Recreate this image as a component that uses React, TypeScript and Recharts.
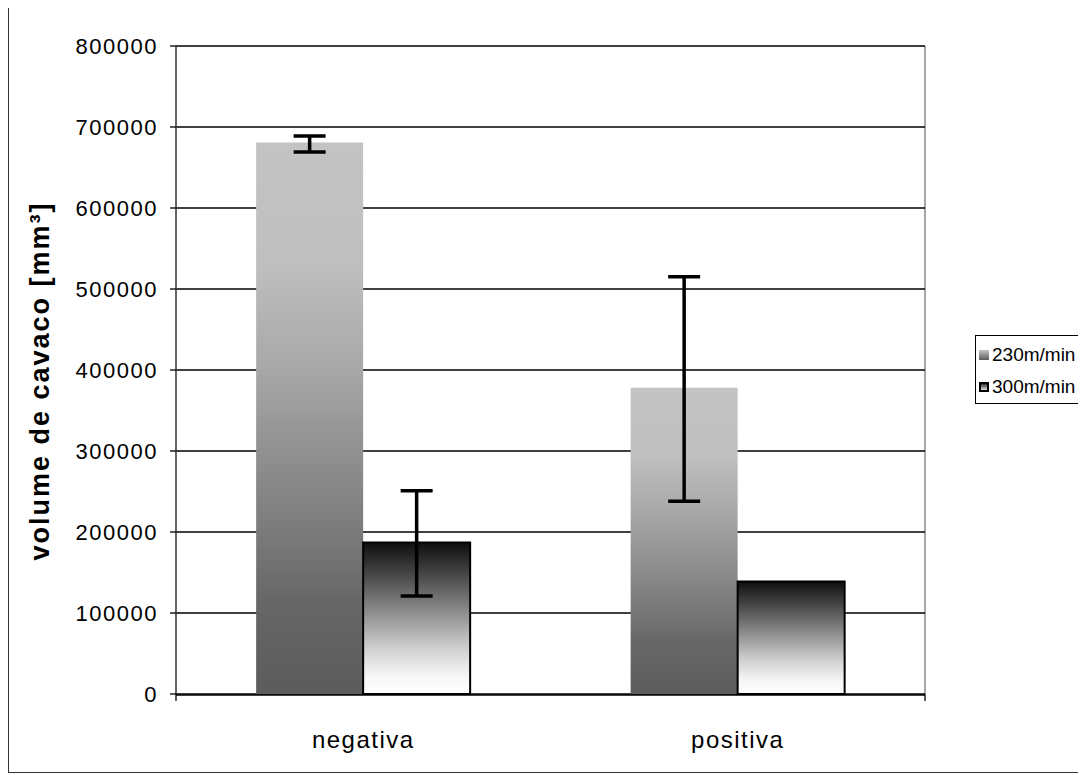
import React from "react";
import {
  ComposedChart,
  Bar,
  XAxis,
  YAxis,
  CartesianGrid,
  ErrorBar,
  Legend,
  Label,
} from "recharts";

const categories = ["negativa", "positiva"];
const series230 = [681000, 378000];
const series300 = [187000, 139000];
const err230Low = [669000, 238000];
const err230High = [689000, 515000];
const err300Low: (number | null)[] = [121000, null];
const err300High: (number | null)[] = [251000, null];
const yTicks = [0, 100000, 200000, 300000, 400000, 500000, 600000, 700000, 800000];
const boundTicks = [0, 1, 2];
const seriesNames = ["230m/min", "300m/min"];

const data = categories.map((c, i) => ({
  name: c,
  v230: series230[i],
  v300: series300[i],
  e230: [series230[i] - err230Low[i], err230High[i] - series230[i]],
  e300:
    err300Low[i] == null || err300High[i] == null
      ? null
      : [series300[i] - (err300Low[i] as number), (err300High[i] as number) - series300[i]],
}));

const FONT = "'Liberation Sans', Arial, sans-serif";

const LegendBox = () => (
  <div
    style={{
      width: 105,
      height: 69,
      border: "1px solid #000",
      background: "#fff",
      fontFamily: FONT,
      fontSize: 19,
      color: "#000",
      boxSizing: "border-box",
      paddingLeft: 3,
    }}
  >
    <div style={{ display: "flex", alignItems: "center", height: 33, marginTop: 2 }}>
      <svg width={10} height={10} style={{ marginRight: 3 }}>
        <rect x={0} y={0} width={10} height={10} fill="url(#lg230)" />
      </svg>
      <span>{seriesNames[0]}</span>
    </div>
    <div style={{ display: "flex", alignItems: "center", height: 31 }}>
      <svg width={10} height={10} style={{ marginRight: 3 }}>
        <rect x={1} y={1} width={8} height={8} fill="url(#lg300)" stroke="#000" strokeWidth={2} />
      </svg>
      <span>{seriesNames[1]}</span>
    </div>
  </div>
);

export default function App() {
  return (
    <div
      style={{
        width: 1076,
        height: 764,
        border: "1px solid #333",
        position: "relative",
        background: "#fff",
        marginTop: -1,
      }}
    >
      <svg width={0} height={0} style={{ position: "absolute" }}>
        <defs>
          <linearGradient id="lg230" x1="0" y1="0" x2="0" y2="1">
            <stop offset="0" stopColor="#c4c4c4" />
            <stop offset="1" stopColor="#5c5c5c" />
          </linearGradient>
          <linearGradient id="lg300" x1="0" y1="0" x2="0" y2="1">
            <stop offset="0" stopColor="#111" />
            <stop offset="1" stopColor="#fff" />
          </linearGradient>
        </defs>
      </svg>
      <ComposedChart
        width={1074}
        height={762}
        data={data}
        margin={{ top: 38, right: 53, left: 0, bottom: 16 }}
        barGap={0}
        barCategoryGap="21.4%"
        style={{ fontFamily: FONT }}
      >
        <defs>
          <linearGradient id="g230" x1="0" y1="0" x2="0" y2="1">
            <stop offset="0" stopColor="#c3c3c3" />
            <stop offset="0.22" stopColor="#bfbfbf" />
            <stop offset="0.4" stopColor="#a9a9ab" />
            <stop offset="0.55" stopColor="#929292" />
            <stop offset="0.7" stopColor="#7c7c7c" />
            <stop offset="0.83" stopColor="#676767" />
            <stop offset="1" stopColor="#5c5c5c" />
          </linearGradient>
          <linearGradient id="g300" x1="0" y1="0" x2="0" y2="1">
            <stop offset="0" stopColor="#0e0e0e" />
            <stop offset="0.2" stopColor="#444" />
            <stop offset="0.45" stopColor="#8a8a8a" />
            <stop offset="0.7" stopColor="#d0d0d0" />
            <stop offset="0.88" stopColor="#f6f6f6" />
            <stop offset="1" stopColor="#fff" />
          </linearGradient>
        </defs>
        <CartesianGrid
          horizontal={false}
          vertical
          stroke="#888"
          strokeWidth={1.5}
          verticalCoordinatesGenerator={({ offset }: any) => [offset.left + offset.width]}
        />
        <CartesianGrid horizontal vertical={false} stroke="#000" strokeWidth={1.3} />
        <XAxis
          xAxisId="bound"
          type="number"
          domain={[0, 2]}
          allowDataOverflow
          ticks={boundTicks}
          interval={0}
          axisLine={false}
          tick={{ fill: "transparent", fontSize: 1 }}
          tickFormatter={() => ""}
          tickLine={{ stroke: "#000", strokeWidth: 1.3 }}
          tickSize={7}
          height={1}
        />
        <XAxis
          dataKey="name"
          xAxisId="cat"
          axisLine={{ stroke: "#000", strokeWidth: 1.5 }}
          tickLine={false}
          tickMargin={30}
          height={59}
          tick={{ fill: "#000", fontSize: 24, letterSpacing: 1.5 }}
        />
        <YAxis
          domain={[0, 800000]}
          ticks={yTicks}
          width={167}
          axisLine={{ stroke: "#333", strokeWidth: 1.5 }}
          tickLine={{ stroke: "#000", strokeWidth: 1.3 }}
          tickSize={6}
          tickMargin={12}
          interval={0}
          tick={{ fill: "#000", fontSize: 22, letterSpacing: 1.5 }}
        >
          <Label
            value="volume de cavaco [mm³]"
            angle={-90}
            position="insideLeft"
            offset={30}
            dy={11}
            style={{ fontSize: 27, fontWeight: "bold", fill: "#000", textAnchor: "middle", letterSpacing: 2 }}
          />
        </YAxis>
        <Bar
          dataKey="v230"
          xAxisId="cat"
          name={seriesNames[0]}
          fill="url(#g230)"
          isAnimationActive={false}
        >
          <ErrorBar dataKey="e230" width={16} stroke="#000" strokeWidth={3.5} direction="y" />
        </Bar>
        <Bar
          dataKey="v300"
          xAxisId="cat"
          name={seriesNames[1]}
          fill="url(#g300)"
          stroke="#000"
          strokeWidth={2}
          isAnimationActive={false}
        >
          <ErrorBar dataKey="e300" width={16} stroke="#000" strokeWidth={3.5} direction="y" />
        </Bar>
        <Legend
          layout="vertical"
          align="right"
          verticalAlign="middle"
          content={<LegendBox />}
          wrapperStyle={{ left: 966, top: 327, width: 105, height: 69 }}
        />
      </ComposedChart>
    </div>
  );
}
